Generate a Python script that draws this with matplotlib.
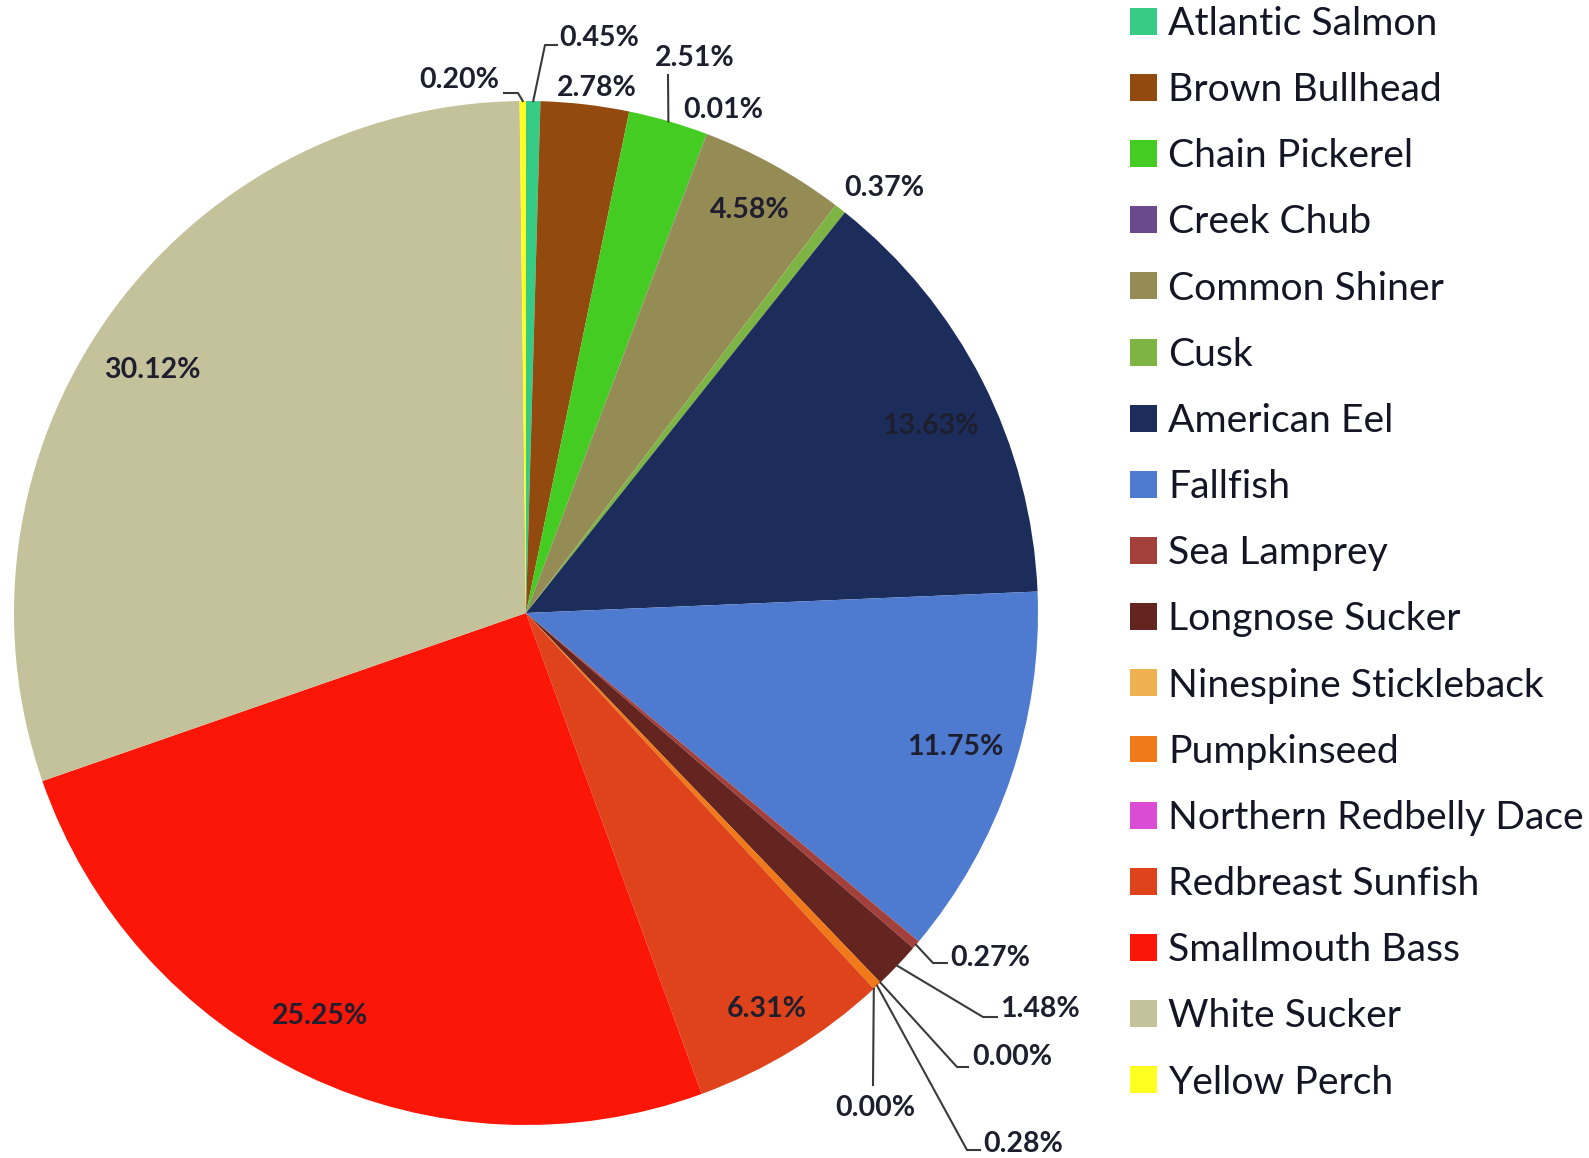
import matplotlib
matplotlib.use("Agg")
import matplotlib.pyplot as plt
from matplotlib.patches import Patch
import numpy as np

plt.rcParams['font.family'] = ['Lato', 'DejaVu Sans']

species = ['Atlantic Salmon', 'Brown Bullhead', 'Chain Pickerel', 'Creek Chub',
           'Common Shiner', 'Cusk', 'American Eel', 'Fallfish', 'Sea Lamprey',
           'Longnose Sucker', 'Ninespine Stickleback', 'Pumpkinseed',
           'Northern Redbelly Dace', 'Redbreast Sunfish', 'Smallmouth Bass',
           'White Sucker', 'Yellow Perch']
percent = [0.45, 2.78, 2.51, 0.01, 4.58, 0.37, 13.63, 11.75, 0.27,
           1.48, 0.00, 0.28, 0.00, 6.31, 25.25, 30.12, 0.20]
colors = ['#36CC86', '#934A0E', '#44CC22', '#6A4A8C', '#958C55', '#7DB443',
          '#1C2D5C', '#4E7BD0', '#A4403C', '#642521', '#EFB14F', '#F07A1A',
          '#DA4CD4', '#DF431B', '#FC1607', '#C4C29A', '#FFFF20']

# label centres in image pixels (layout)
label_px = [(599, 38), (597, 88), (695, 58), (723, 110), (750, 210), (884, 188),
            (930, 426), (955, 747), (990, 958), (1040, 1009), (1012, 1057),
            (1023, 1144), (875, 1108), (767, 1009), (320, 1016), (152, 370),
            (459, 80)]
# leader line bends (image pixels), per slice index
leaders = {
    16: [(518, 93), (504, 93)],
    0: [(545, 45), (557, 45)],
    2: [(668, 75)],
    8: [(933, 963), (947, 963)],
    9: [(983, 1017), (997, 1017)],
    10: [(957, 1067), (968, 1067)],
    11: [(967, 1150), (980, 1150)],
    12: [(873, 1085)],
}

W, H = 1589, 1158
CX, CY, R = 526, 613, 512

def to_data(p):
    return ((p[0] - CX) / R, (CY - p[1]) / R)

fig = plt.figure(figsize=(W / 100, H / 100), dpi=100)
ax = fig.add_axes([(CX - R) / W, (H - CY - R) / H, 2 * R / W, 2 * R / H])
wedges, _ = ax.pie(percent, colors=colors, startangle=90, counterclock=False,
                   radius=1, wedgeprops=dict(linewidth=0))
ax.set_xlim(-1, 1)
ax.set_ylim(-1, 1)
ax.set_aspect('equal')
ax.axis('off')

text_color = '#1E1E2E'
for i, (w, v) in enumerate(zip(wedges, percent)):
    x, y = to_data(label_px[i])
    ax.text(x, y, f'{v:.2f}%', ha='center', va='center', fontsize=20.5,
            fontweight='bold', color=text_color)
    if i in leaders:
        mid = np.deg2rad((w.theta1 + w.theta2) / 2)
        pts = [(np.cos(mid), np.sin(mid))] + [to_data(p) for p in leaders[i]]
        xs, ys = zip(*pts)
        ax.plot(xs, ys, color='#3A3A3A', lw=1.5, clip_on=False)

handles = [Patch(facecolor=c, edgecolor='none') for c in colors]
fig.legend(handles, species, loc='upper left',
           bbox_to_anchor=(1130 / W, 1.0 - 6 / H),
           frameon=False, borderpad=0, borderaxespad=0, handlelength=0.68,
           handleheight=0.68, handletextpad=0.3, labelspacing=0.77,
           fontsize=28.2, labelcolor='#151525')

fig.savefig('out.png', dpi=100)
